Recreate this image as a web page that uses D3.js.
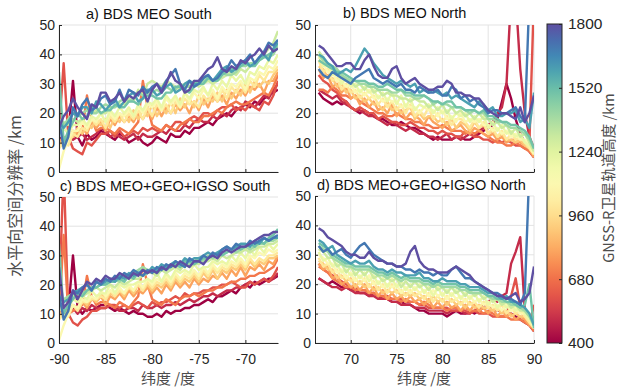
<!DOCTYPE html>
<html>
<head>
<meta charset="utf-8">
<script src="https://cdn.jsdelivr.net/npm/d3@7"></script>
<style>
  body { margin: 0; background: #fff; }
  svg text { font-family: "Liberation Sans", Arial, sans-serif; }
  svg text.cjk { font-family: "Noto Sans CJK SC", sans-serif; }
</style>
</head>
<body>
<svg id="canvas" width="619" height="391"></svg>
<script>
// orbit heights of the GNSS-R satellites (km), one line each
var altitudes = [400, 500, 600, 700, 800, 900, 1000, 1100, 1200, 1300, 1400, 1500, 1600, 1700, 1800];
var latSouth = [-90, -89.5, -89, -88.5, -88, -87.5, -87, -86.5, -86, -85.5,
  -85, -84.5, -84, -83.5, -83, -82.5, -82, -81.5, -81, -80.5,
  -80, -79.5, -79, -78.5, -78, -77.5, -77, -76.5, -76, -75.5,
  -75, -74.5, -74, -73.5, -73, -72.5, -72, -71.5, -71, -70.5,
  -70, -69.5, -69, -68.5, -68, -67.5, -67, -66.5];
var latNorth = [66.5, 67, 67.5, 68, 68.5, 69, 69.5, 70, 70.5, 71,
  71.5, 72, 72.5, 73, 73.5, 74, 74.5, 75, 75.5, 76,
  76.5, 77, 77.5, 78, 78.5, 79, 79.5, 80, 80.5, 81,
  81.5, 82, 82.5, 83, 83.5, 84, 84.5, 85, 85.5, 86,
  86.5, 87, 87.5, 88, 88.5, 89, 89.5, 90];
var yTicks = [0, 10, 20, 30, 40, 50];
var xTicksSouth = [-90, -85, -80, -75, -70];
var xTicksNorth = [70, 75, 80, 85, 90];
var cbTicks = [400, 680, 960, 1240, 1520, 1800];

// a) BDS MEO South  (rows follow altitudes)
var southMEO = [
  [12, 10, 13, 31, 12, 9, 13, 11, 12, 14, 13, 12, 11, 13, 12, 10, 11, 12, 10, 9, 10, 12, 11, 10, 13, 12, 12, 14, 13, 15, 15, 16, 17, 16, 18, 19, 20, 19, 21, 22, 23, 22, 24, 23, 25, 26, 27, 28],
  [10, 11, 12, 11, 12, 13, 11, 12, 13, 15, 14, 12, 13, 12, 11, 12, 13, 11, 13, 12, 12, 13, 14, 13, 15, 14, 14, 16, 15, 17, 18, 17, 17, 19, 18, 20, 19, 21, 22, 21, 24, 23, 22, 24, 26, 25, 28, 30],
  [14, 37, 12, 8, 7, 6, 10, 9, 11, 13, 13, 14, 12, 14, 12, 13, 14, 13, 15, 14, 15, 14, 14, 16, 15, 17, 17, 16, 18, 19, 18, 20, 20, 19, 21, 22, 22, 23, 21, 22, 21, 23, 22, 21, 24, 23, 26, 31],
  [9, 10, 11, 12, 13, 14, 26, 18, 14, 15, 15, 14, 13, 15, 14, 13, 15, 17, 31, 22, 16, 15, 14, 16, 15, 14, 16, 17, 18, 17, 17, 19, 19, 20, 21, 20, 22, 23, 24, 23, 23, 24, 25, 26, 27, 26, 29, 33],
  [10, 12, 11, 14, 13, 15, 13, 17, 15, 17, 14, 18, 16, 19, 17, 19, 17, 20, 18, 21, 18, 22, 19, 22, 20, 23, 21, 23, 20, 24, 21, 25, 22, 26, 24, 26, 23, 27, 25, 28, 26, 29, 28, 30, 27, 31, 31, 34],
  [9, 11, 12, 12, 15, 13, 16, 15, 18, 16, 18, 15, 19, 17, 20, 17, 21, 18, 21, 19, 23, 19, 22, 20, 24, 20, 25, 22, 25, 22, 26, 23, 25, 24, 27, 24, 28, 25, 28, 26, 30, 27, 31, 29, 31, 30, 33, 35],
  [8, 10, 9, 13, 12, 15, 14, 18, 16, 18, 15, 19, 17, 20, 17, 20, 18, 21, 18, 22, 19, 23, 21, 23, 20, 24, 22, 25, 23, 24, 22, 26, 24, 27, 24, 28, 25, 29, 27, 30, 27, 31, 29, 33, 31, 34, 34, 36],
  [1, 7, 11, 14, 14, 17, 15, 18, 17, 20, 17, 20, 18, 20, 19, 21, 19, 22, 20, 23, 22, 24, 21, 25, 23, 25, 22, 27, 24, 27, 25, 28, 26, 28, 25, 29, 27, 30, 29, 31, 28, 32, 31, 34, 33, 36, 35, 38],
  [12, 15, 13, 16, 16, 18, 16, 19, 18, 20, 17, 21, 19, 22, 20, 22, 19, 23, 21, 24, 23, 25, 22, 26, 24, 26, 23, 27, 25, 28, 27, 29, 26, 30, 28, 31, 29, 33, 31, 33, 30, 34, 33, 36, 35, 38, 37, 40],
  [15, 17, 16, 18, 17, 18, 19, 20, 21, 20, 20, 22, 22, 23, 23, 25, 24, 28, 26, 30, 31, 30, 29, 31, 30, 29, 28, 30, 29, 30, 29, 30, 31, 30, 31, 32, 33, 34, 33, 35, 34, 36, 37, 39, 40, 42, 44, 48],
  [18, 16, 18, 20, 19, 20, 21, 20, 20, 22, 23, 22, 22, 24, 25, 24, 25, 27, 26, 27, 27, 28, 27, 29, 28, 28, 30, 29, 29, 31, 30, 31, 32, 31, 32, 34, 33, 33, 34, 36, 36, 37, 37, 38, 39, 39, 40, 43],
  [34, 10, 14, 17, 20, 18, 19, 22, 22, 20, 21, 21, 23, 22, 22, 24, 24, 23, 25, 26, 26, 25, 25, 27, 27, 29, 29, 28, 27, 29, 30, 30, 32, 31, 31, 33, 34, 35, 35, 36, 37, 36, 36, 38, 39, 40, 41, 44],
  [17, 15, 17, 20, 19, 22, 22, 20, 24, 23, 21, 23, 25, 22, 24, 26, 27, 24, 25, 28, 28, 26, 27, 29, 30, 27, 28, 30, 31, 30, 30, 32, 33, 31, 33, 35, 36, 34, 35, 37, 38, 36, 37, 39, 40, 38, 42, 44],
  [18, 8, 12, 22, 19, 23, 25, 21, 22, 25, 26, 23, 24, 28, 24, 28, 27, 26, 29, 27, 29, 30, 28, 31, 33, 35, 30, 28, 31, 29, 30, 32, 33, 31, 32, 34, 35, 38, 36, 37, 38, 40, 37, 39, 41, 44, 43, 45],
  [15, 19, 21, 25, 22, 20, 18, 23, 22, 27, 27, 24, 25, 27, 24, 26, 25, 27, 28, 24, 28, 30, 27, 30, 34, 31, 30, 27, 28, 31, 31, 33, 35, 36, 39, 35, 34, 36, 35, 38, 37, 39, 40, 42, 40, 43, 41, 42]
];

// b) BDS MEO North
var northMEO = [
  [27, 25, 24, 23, 24, 23, 24, 22, 21, 20, 21, 20, 19, 18, 18, 17, 16, 16, 17, 16, 15, 15, 14, 13, 12, 11, 12, 11, 11, 11, 12, 12, 11, 11, 12, 13, 14, 15, 16, 18, 24, 30, 25, 18, 13, 10, 7, 5],
  [28, 27, 26, 25, 26, 24, 23, 22, 21, 21, 20, 19, 19, 18, 17, 16, 17, 16, 15, 14, 15, 14, 13, 13, 12, 12, 11, 12, 13, 11, 12, 11, 12, 13, 12, 14, 15, 16, 17, 20, 22, 30, 60, 60, 35, 20, 12, 8],
  [33, 31, 30, 28, 27, 25, 24, 22, 21, 22, 21, 20, 20, 18, 19, 18, 17, 17, 16, 16, 17, 16, 15, 15, 14, 14, 13, 14, 13, 13, 12, 12, 14, 13, 12, 12, 11, 11, 10, 11, 10, 11, 10, 9, 9, 8, 10, 60],
  [28, 28, 27, 29, 28, 26, 26, 25, 26, 24, 23, 22, 21, 20, 20, 19, 19, 20, 19, 18, 18, 17, 17, 16, 16, 15, 15, 16, 15, 14, 14, 14, 13, 14, 13, 14, 13, 12, 11, 10, 10, 9, 9, 10, 9, 8, 7, 5],
  [35, 32, 33, 29, 30, 27, 29, 25, 26, 23, 25, 22, 24, 21, 22, 20, 23, 19, 21, 18, 20, 19, 18, 16, 19, 17, 16, 15, 17, 14, 15, 16, 14, 13, 15, 14, 13, 12, 13, 11, 12, 10, 11, 11, 10, 9, 8, 5],
  [36, 35, 32, 32, 29, 30, 27, 28, 25, 26, 24, 25, 23, 23, 21, 24, 21, 22, 20, 21, 22, 18, 20, 18, 19, 19, 17, 18, 16, 18, 15, 17, 16, 14, 17, 15, 16, 13, 14, 12, 13, 11, 11, 10, 11, 9, 8, 6],
  [38, 34, 35, 31, 32, 28, 30, 27, 28, 25, 27, 25, 26, 23, 25, 22, 24, 21, 23, 20, 23, 19, 21, 19, 22, 18, 20, 17, 19, 16, 18, 18, 17, 15, 18, 15, 17, 13, 15, 12, 14, 11, 13, 11, 12, 10, 8, 6],
  [39, 37, 34, 34, 31, 31, 29, 30, 27, 28, 26, 28, 25, 26, 24, 25, 24, 24, 22, 23, 22, 22, 20, 22, 21, 21, 19, 21, 18, 19, 17, 20, 17, 18, 17, 18, 16, 16, 14, 15, 13, 14, 12, 13, 11, 11, 9, 6],
  [40, 36, 37, 33, 34, 30, 32, 29, 30, 27, 29, 27, 28, 25, 27, 24, 27, 23, 26, 22, 25, 21, 23, 22, 23, 20, 22, 20, 21, 18, 20, 19, 20, 17, 19, 17, 19, 15, 17, 14, 16, 13, 14, 12, 13, 10, 9, 7],
  [41, 39, 36, 36, 33, 33, 31, 31, 29, 30, 28, 30, 27, 28, 26, 27, 26, 26, 25, 25, 24, 25, 24, 24, 22, 23, 21, 23, 20, 22, 20, 21, 19, 20, 18, 20, 18, 18, 16, 17, 15, 16, 13, 15, 12, 13, 10, 7],
  [40, 38, 37, 36, 35, 33, 32, 31, 31, 30, 30, 29, 29, 28, 28, 28, 27, 27, 28, 26, 26, 25, 25, 26, 25, 23, 24, 23, 23, 22, 22, 22, 21, 20, 21, 20, 20, 18, 18, 17, 17, 16, 15, 15, 14, 13, 11, 8],
  [38, 37, 36, 35, 34, 34, 33, 32, 31, 31, 31, 30, 30, 29, 29, 30, 29, 28, 28, 27, 27, 26, 26, 26, 25, 24, 24, 23, 24, 24, 22, 22, 21, 21, 21, 20, 21, 19, 19, 18, 17, 17, 16, 16, 15, 14, 12, 8],
  [40, 39, 37, 36, 33, 34, 35, 34, 36, 39, 42, 40, 37, 35, 33, 32, 31, 30, 31, 30, 29, 30, 27, 28, 27, 28, 27, 26, 27, 25, 26, 25, 24, 23, 22, 24, 23, 21, 22, 19, 19, 20, 20, 21, 17, 18, 15, 27],
  [35, 33, 32, 34, 33, 32, 31, 30, 32, 33, 34, 35, 32, 31, 30, 31, 30, 29, 30, 28, 28, 27, 29, 28, 27, 27, 28, 26, 26, 29, 28, 25, 26, 24, 25, 23, 22, 20, 21, 21, 20, 20, 21, 22, 19, 17, 60, 60],
  [43, 42, 40, 38, 36, 36, 37, 37, 35, 35, 38, 40, 36, 33, 32, 32, 35, 36, 32, 30, 31, 32, 30, 29, 28, 28, 29, 29, 31, 30, 27, 27, 26, 26, 25, 25, 23, 21, 20, 19, 20, 20, 19, 18, 22, 17, 20, 26]
];

// c) BDS MEO+GEO+IGSO South
var southAll = [
  [12, 10, 11, 30, 12, 10, 12, 11, 12, 13, 13, 12, 11, 12, 11, 10, 11, 10, 10, 9, 9, 10, 9, 11, 10, 11, 11, 12, 12, 13, 13, 14, 15, 14, 16, 16, 17, 18, 17, 19, 20, 19, 21, 20, 21, 22, 22, 23],
  [10, 10, 11, 12, 10, 12, 11, 13, 12, 12, 12, 13, 12, 11, 11, 12, 12, 11, 13, 12, 12, 13, 12, 13, 13, 14, 13, 14, 15, 14, 15, 16, 16, 17, 16, 17, 18, 18, 19, 19, 20, 21, 20, 21, 22, 21, 22, 24],
  [14, 60, 10, 7, 6, 8, 9, 11, 11, 12, 12, 13, 13, 12, 13, 12, 13, 14, 13, 12, 14, 13, 14, 14, 15, 16, 15, 17, 16, 17, 17, 18, 18, 19, 19, 20, 20, 21, 20, 19, 19, 21, 20, 21, 22, 21, 23, 26],
  [9, 37, 10, 11, 12, 13, 23, 16, 13, 14, 14, 13, 12, 14, 13, 12, 14, 16, 27, 20, 15, 14, 13, 15, 14, 13, 15, 16, 16, 17, 16, 17, 18, 18, 19, 19, 20, 21, 21, 22, 22, 23, 23, 24, 24, 25, 26, 29],
  [10, 11, 11, 13, 12, 14, 12, 15, 14, 16, 13, 16, 15, 17, 15, 18, 16, 18, 17, 19, 17, 19, 17, 20, 18, 21, 19, 21, 19, 22, 20, 22, 21, 23, 22, 24, 22, 25, 23, 26, 23, 26, 25, 27, 25, 28, 27, 30],
  [9, 11, 10, 13, 12, 15, 13, 16, 14, 17, 15, 17, 16, 18, 16, 19, 17, 20, 18, 20, 18, 20, 19, 21, 19, 22, 20, 22, 21, 23, 21, 24, 22, 25, 22, 25, 24, 26, 25, 27, 25, 28, 26, 28, 27, 29, 29, 30],
  [8, 10, 9, 13, 11, 14, 14, 15, 15, 16, 15, 18, 16, 18, 17, 19, 18, 20, 18, 21, 19, 21, 20, 22, 20, 23, 21, 23, 22, 24, 22, 25, 23, 26, 24, 26, 25, 27, 26, 28, 26, 29, 27, 29, 28, 30, 30, 31],
  [1, 6, 10, 13, 12, 15, 14, 16, 15, 18, 16, 18, 17, 19, 17, 20, 18, 21, 19, 22, 20, 22, 21, 23, 21, 24, 22, 24, 23, 25, 23, 26, 24, 27, 25, 27, 26, 28, 27, 29, 27, 30, 29, 31, 30, 32, 31, 32],
  [11, 13, 12, 15, 14, 16, 15, 18, 16, 17, 17, 20, 17, 20, 19, 20, 20, 21, 21, 22, 21, 24, 21, 24, 22, 25, 24, 25, 24, 27, 25, 26, 26, 28, 27, 28, 27, 30, 28, 31, 29, 32, 30, 33, 31, 34, 32, 34],
  [14, 15, 15, 16, 17, 16, 17, 18, 19, 18, 19, 20, 19, 21, 20, 21, 22, 22, 23, 24, 24, 23, 25, 24, 25, 26, 25, 27, 26, 27, 27, 28, 28, 29, 28, 30, 29, 30, 31, 31, 32, 31, 32, 33, 33, 34, 34, 35],
  [16, 15, 16, 17, 18, 17, 18, 19, 19, 20, 20, 21, 22, 21, 23, 22, 24, 25, 26, 25, 25, 24, 25, 26, 26, 27, 26, 28, 27, 28, 29, 28, 30, 29, 30, 31, 31, 32, 31, 32, 33, 32, 33, 34, 34, 35, 35, 36],
  [34, 10, 13, 15, 17, 16, 18, 19, 19, 20, 20, 21, 21, 22, 21, 23, 22, 24, 23, 24, 25, 24, 26, 25, 26, 27, 26, 28, 28, 27, 28, 29, 29, 30, 31, 30, 31, 32, 33, 32, 33, 34, 33, 35, 34, 36, 37, 39],
  [16, 14, 15, 17, 18, 19, 20, 18, 21, 20, 21, 22, 21, 23, 22, 24, 23, 24, 25, 24, 26, 25, 27, 26, 27, 28, 27, 29, 28, 29, 29, 30, 31, 30, 31, 32, 33, 32, 33, 34, 34, 33, 35, 34, 36, 35, 36, 36],
  [17, 8, 11, 18, 17, 19, 20, 18, 21, 20, 22, 21, 23, 22, 24, 23, 25, 24, 23, 25, 24, 26, 25, 27, 26, 28, 27, 26, 29, 28, 28, 30, 29, 31, 30, 32, 33, 32, 34, 33, 33, 35, 34, 35, 36, 35, 36, 37],
  [26, 12, 14, 18, 15, 18, 21, 20, 22, 21, 23, 22, 22, 24, 23, 22, 24, 23, 25, 24, 25, 24, 26, 25, 27, 26, 28, 27, 26, 28, 28, 27, 29, 30, 29, 31, 32, 31, 32, 33, 33, 34, 35, 36, 37, 37, 38, 38]
];

// d) BDS MEO+GEO+IGSO North
var northAll = [
  [22, 21, 20, 21, 20, 19, 19, 18, 18, 17, 17, 16, 17, 16, 15, 15, 14, 14, 14, 13, 13, 12, 11, 11, 10, 10, 10, 10, 9, 10, 11, 10, 10, 11, 10, 11, 12, 12, 12, 11, 11, 10, 10, 9, 8, 7, 6, 4],
  [22, 21, 20, 19, 19, 18, 19, 18, 17, 17, 17, 16, 16, 15, 15, 15, 14, 14, 13, 13, 13, 12, 12, 12, 11, 11, 11, 11, 10, 11, 11, 11, 10, 10, 11, 12, 13, 14, 15, 14, 16, 17, 27, 31, 36, 11, 8, 5],
  [27, 25, 24, 23, 22, 21, 20, 19, 19, 18, 18, 17, 17, 16, 16, 16, 15, 15, 15, 14, 14, 14, 13, 13, 12, 12, 12, 12, 12, 11, 11, 11, 11, 10, 11, 10, 10, 10, 9, 9, 9, 9, 16, 22, 12, 8, 6, 13],
  [26, 25, 24, 22, 21, 20, 19, 19, 18, 18, 18, 17, 17, 16, 16, 15, 15, 15, 14, 15, 14, 14, 13, 14, 13, 12, 12, 12, 11, 12, 12, 11, 12, 11, 11, 11, 10, 11, 10, 9, 9, 9, 8, 8, 8, 7, 6, 4],
  [27, 25, 26, 22, 23, 20, 21, 19, 20, 18, 20, 17, 19, 16, 18, 15, 17, 15, 16, 14, 16, 14, 15, 13, 15, 12, 14, 12, 14, 12, 13, 11, 13, 11, 13, 11, 12, 10, 12, 9, 11, 9, 10, 8, 9, 8, 6, 5],
  [28, 27, 25, 25, 22, 23, 21, 22, 19, 21, 19, 20, 18, 19, 17, 18, 17, 18, 16, 17, 16, 17, 15, 16, 14, 16, 14, 15, 13, 15, 13, 14, 12, 14, 12, 13, 12, 12, 11, 12, 10, 11, 9, 10, 9, 9, 7, 5],
  [29, 26, 27, 24, 25, 22, 23, 21, 22, 20, 22, 19, 21, 18, 20, 17, 20, 17, 18, 16, 18, 16, 17, 15, 17, 14, 16, 14, 16, 14, 15, 13, 15, 13, 14, 12, 14, 12, 13, 11, 13, 10, 12, 10, 11, 9, 7, 5],
  [30, 29, 27, 27, 24, 25, 22, 24, 21, 23, 21, 23, 20, 21, 19, 20, 19, 20, 17, 19, 17, 19, 17, 18, 16, 18, 16, 17, 15, 17, 15, 16, 14, 16, 14, 15, 13, 14, 12, 13, 11, 13, 11, 12, 10, 10, 8, 5],
  [31, 28, 29, 26, 27, 24, 25, 23, 24, 22, 24, 21, 23, 20, 22, 19, 22, 19, 21, 18, 20, 18, 20, 17, 19, 16, 19, 16, 18, 16, 18, 15, 17, 15, 17, 14, 16, 13, 15, 12, 14, 12, 13, 11, 12, 10, 8, 6],
  [32, 31, 29, 29, 26, 27, 24, 26, 23, 25, 23, 25, 22, 23, 21, 22, 21, 22, 19, 21, 19, 21, 19, 20, 18, 20, 18, 19, 17, 19, 17, 18, 16, 18, 16, 17, 15, 16, 14, 15, 13, 14, 12, 13, 11, 11, 9, 6],
  [33, 32, 31, 29, 28, 27, 26, 26, 25, 25, 25, 25, 24, 23, 23, 22, 23, 22, 21, 22, 21, 21, 21, 20, 20, 19, 20, 19, 19, 19, 19, 18, 18, 17, 17, 17, 17, 16, 15, 15, 14, 14, 13, 13, 12, 11, 9, 6],
  [34, 33, 32, 30, 29, 28, 27, 27, 26, 26, 26, 26, 25, 24, 24, 23, 24, 23, 22, 23, 22, 22, 22, 21, 21, 20, 21, 20, 20, 20, 20, 19, 19, 18, 18, 18, 17, 16, 16, 15, 15, 14, 14, 13, 12, 13, 20, 5],
  [35, 34, 32, 33, 30, 29, 28, 27, 28, 27, 27, 28, 26, 25, 25, 24, 25, 24, 24, 23, 23, 23, 24, 22, 22, 21, 21, 22, 21, 21, 21, 20, 20, 19, 19, 19, 18, 17, 17, 16, 15, 16, 14, 14, 13, 12, 10, 6],
  [33, 31, 32, 30, 31, 32, 30, 29, 31, 33, 34, 32, 30, 29, 28, 27, 27, 26, 26, 25, 25, 24, 25, 24, 24, 23, 24, 23, 23, 25, 26, 24, 22, 22, 21, 20, 19, 18, 17, 17, 16, 15, 15, 14, 13, 17, 60, 60],
  [39, 38, 36, 35, 34, 33, 31, 30, 30, 29, 29, 31, 29, 28, 28, 27, 27, 26, 26, 27, 31, 33, 28, 26, 25, 25, 24, 24, 24, 25, 26, 25, 24, 23, 21, 20, 19, 18, 17, 16, 16, 15, 16, 17, 14, 15, 17, 26]
];

var svg = d3.select('#canvas');
var color = d3.scaleSequential(d3.interpolateSpectral).domain([400, 1800]);
var axisColor = '#262626';
var defs = svg.append('defs');

// ************************************************************************************** //
// Panels

var panels = [
  { id: 'a', title: 'a) BDS MEO South', tx: 86, ty: 19, lat: latSouth, data: southMEO, xDom: [-90, -66.5], xr: [59, 278], yr: [172, 25], xt: xTicksSouth, xlabels: false },
  { id: 'b', title: 'b) BDS MEO North', tx: 343, ty: 18, lat: latNorth, data: northMEO, xDom: [66.1, 90], xr: [315, 534], yr: [172, 25], xt: xTicksNorth, xlabels: false },
  { id: 'c', title: 'c) BDS MEO+GEO+IGSO South', tx: 60, ty: 191, lat: latSouth, data: southAll, xDom: [-90, -66.5], xr: [59, 278], yr: [343, 197], xt: xTicksSouth, xlabels: true },
  { id: 'd', title: 'd) BDS MEO+GEO+IGSO North', tx: 317, ty: 190, lat: latNorth, data: northAll, xDom: [66.1, 90], xr: [315, 534], yr: [343, 196], xt: xTicksNorth, xlabels: true }
];

panels.forEach(function(p) {
  var x = d3.scaleLinear().domain(p.xDom).range(p.xr);
  var y = d3.scaleLinear().domain([0, 50]).range(p.yr);
  var g = svg.append('g').attr('id', 'panel_' + p.id);

  defs.append('clipPath').attr('id', 'clip_' + p.id).append('rect')
    .attr('x', p.xr[0]).attr('y', p.yr[1])
    .attr('width', p.xr[1] - p.xr[0]).attr('height', p.yr[0] - p.yr[1]);

  // grid
  g.selectAll('.gx').data(p.xt).enter().append('line')
    .attr('x1', d => x(d)).attr('x2', d => x(d))
    .attr('y1', p.yr[0]).attr('y2', p.yr[1])
    .attr('stroke', '#e3e3e3').attr('stroke-width', 1);
  g.selectAll('.gy').data(yTicks).enter().append('line')
    .attr('x1', p.xr[0]).attr('x2', p.xr[1])
    .attr('y1', d => y(d)).attr('y2', d => y(d))
    .attr('stroke', '#e3e3e3').attr('stroke-width', 1);

  // lines, low orbits first
  var line = d3.line().x((d, i) => x(p.lat[i])).y(d => y(d));
  g.append('g').attr('clip-path', 'url(#clip_' + p.id + ')')
    .selectAll('path').data(p.data).enter().append('path')
    .attr('d', d => line(d))
    .attr('fill', 'none')
    .attr('stroke', (d, i) => color(altitudes[i]))
    .attr('stroke-width', 2.4)
    .attr('stroke-linejoin', 'round');

  // axes (ticks point inward)
  var xAxis = g.append('g').attr('transform', 'translate(0,' + p.yr[0] + ')')
    .call(d3.axisBottom(x).tickValues(p.xt).tickSize(-3).tickSizeOuter(0).tickPadding(11)
      .tickFormat(d => p.xlabels ? d : ''));
  var yAxis = g.append('g').attr('transform', 'translate(' + p.xr[0] + ',0)')
    .call(d3.axisLeft(y).tickValues(yTicks).tickSize(-3).tickSizeOuter(0).tickPadding(4));
  [xAxis, yAxis].forEach(function(a) {
    a.select('.domain').attr('stroke', axisColor);
    a.selectAll('.tick line').attr('stroke', axisColor);
    a.selectAll('.tick text').attr('fill', axisColor)
      .style('font-family', '"Liberation Sans", Arial, sans-serif').style('font-size', '14px');
  });

  svg.append('text').attr('x', p.tx).attr('y', p.ty)
    .style('font-size', '14.5px').attr('fill', '#111').text(p.title);
});

// axis labels
svg.append('text').attr('class', 'cjk')
  .attr('transform', 'translate(21,196) rotate(-90)')
  .attr('text-anchor', 'middle').style('font-size', '16px').attr('fill', '#4d4d4d')
  .text('水平向空间分辨率 /km');
svg.append('text').attr('class', 'cjk').attr('x', 168).attr('y', 384)
  .attr('text-anchor', 'middle').style('font-size', '15px').attr('fill', '#4d4d4d').text('纬度 /度');
svg.append('text').attr('class', 'cjk').attr('x', 424).attr('y', 384)
  .attr('text-anchor', 'middle').style('font-size', '15px').attr('fill', '#4d4d4d').text('纬度 /度');

// ************************************************************************************** //
// Colorbar

var cb = { x: 547, w: 15, top: 24, bottom: 343 };
var cbScale = d3.scaleLinear().domain([400, 1800]).range([cb.bottom, cb.top]);
var grad = defs.append('linearGradient').attr('id', 'cbgrad')
  .attr('x1', 0).attr('y1', 1).attr('x2', 0).attr('y2', 0);
d3.range(0, 1.0001, 0.05).forEach(function(t) {
  grad.append('stop').attr('offset', t).attr('stop-color', d3.interpolateSpectral(t));
});
svg.append('rect').attr('x', cb.x).attr('y', cb.top).attr('width', cb.w).attr('height', cb.bottom - cb.top)
  .attr('fill', 'url(#cbgrad)').attr('stroke', axisColor).attr('stroke-width', 1);
var cbAxis = svg.append('g').attr('transform', 'translate(' + (cb.x + cb.w) + ',0)')
  .call(d3.axisRight(cbScale).tickValues(cbTicks).tickSize(-3).tickSizeOuter(0).tickPadding(6)
    .tickFormat(d3.format('d')));
cbAxis.select('.domain').remove();
cbAxis.selectAll('.tick line').attr('stroke', axisColor);
cbAxis.selectAll('.tick text').attr('fill', axisColor)
  .style('font-family', '"Liberation Sans", Arial, sans-serif').style('font-size', '15.5px');
svg.append('text').attr('class', 'cjk')
  .attr('transform', 'translate(614,178) rotate(-90)')
  .attr('text-anchor', 'middle').style('font-size', '14.5px').attr('fill', '#4d4d4d')
  .text('GNSS-R卫星轨道高度 /km');
</script>
</body>
</html>
